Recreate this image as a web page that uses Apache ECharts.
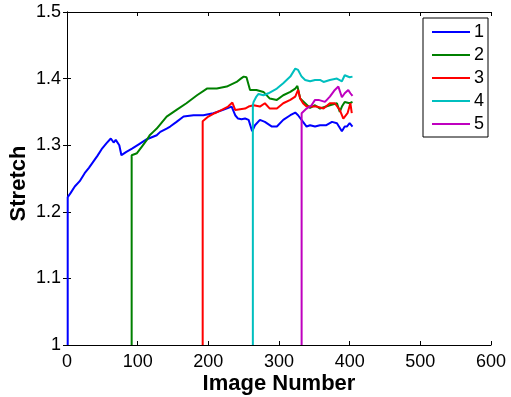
<!DOCTYPE html>
<html><head><meta charset="utf-8">
<script src="https://cdn.jsdelivr.net/npm/echarts@6/dist/echarts.min.js"></script>
<style>html,body{margin:0;padding:0;background:#fff}#c{width:511px;height:397px}</style>
</head><body><div id="c"></div>
<script>
const seriesNames = ['1','2','3','4','5'];
const xTicks = [0,100,200,300,400,500,600];
const yTicks = [1,1.1,1.2,1.3,1.4,1.5];

const s1x = [1,1,5,11,18,25,31,37,43,49,56,62,66,69,74,77,84,92,101,113,120,127,132,141,146,155,165,179,193,207,221,233,238,242,247,252,257,262,266,273,280,290,297,306,316,323,327,334,339,344,351,358,367,375,382,389,393,396,400,404];
const s1y = [1,1.222,1.228,1.238,1.246,1.258,1.266,1.275,1.284,1.294,1.303,1.310,1.304,1.308,1.300,1.285,1.290,1.295,1.301,1.309,1.312,1.315,1.320,1.325,1.328,1.335,1.343,1.345,1.345,1.348,1.353,1.358,1.345,1.340,1.339,1.340,1.338,1.321,1.330,1.338,1.335,1.328,1.328,1.338,1.345,1.349,1.345,1.335,1.328,1.330,1.328,1.330,1.330,1.335,1.333,1.321,1.328,1.328,1.333,1.328];

const s2x = [91.5,91.5,99,106,113,117,122,127,129,141,155,169,184,198,212,226,240,246,250,254,259,261,268,278,287,297,306,316,323,326,330,337,344,351,358,372,382,386,389,393,400,404];
const s2y = [1,1.285,1.288,1.298,1.308,1.315,1.320,1.325,1.326,1.343,1.353,1.363,1.375,1.385,1.385,1.388,1.395,1.400,1.403,1.402,1.383,1.385,1.383,1.380,1.370,1.368,1.375,1.380,1.385,1.389,1.370,1.363,1.356,1.360,1.355,1.360,1.363,1.350,1.358,1.365,1.363,1.365];

const s3x = [192,192,193,200,209,219,228,234,238,245,252,257,264,273,280,287,297,306,316,323,327,330,334,339,346,353,363,372,379,386,391,397,401,403];
const s3y = [1,1.336,1.338,1.343,1.348,1.353,1.358,1.364,1.353,1.354,1.355,1.358,1.360,1.358,1.363,1.355,1.355,1.363,1.368,1.373,1.383,1.370,1.363,1.358,1.358,1.358,1.355,1.363,1.363,1.353,1.340,1.348,1.363,1.348];

const s4x = [263,263,264,268,271,278,285,297,306,316,323,327,332,337,344,351,358,363,372,382,389,393,400,404];
const s4y = [1,1.360,1.365,1.373,1.377,1.375,1.378,1.385,1.393,1.403,1.415,1.413,1.403,1.398,1.396,1.398,1.398,1.395,1.398,1.400,1.396,1.405,1.402,1.403];

const s5x = [332,332,339,346,351,356,358,365,372,379,384,389,393,398,401,404];
const s5y = [1,1.348,1.355,1.360,1.368,1.368,1.370,1.365,1.373,1.383,1.388,1.372,1.378,1.383,1.378,1.374];

const colors = ['#0000ff','#008000','#ff0000','#00bfbf','#bf00bf'];
const xs = [s1x,s2x,s3x,s4x,s5x];
const ys = [s1y,s2y,s3y,s4y,s5y];

const FONT = 'Liberation Sans';
const chart = echarts.init(document.getElementById('c'), null, {renderer:'canvas'});

const baseAxis = {
  axisLine:{show:true, lineStyle:{color:'#000', width:1}},
  axisTick:{show:true, inside:true, length:4, lineStyle:{color:'#000', width:1}},
  splitLine:{show:false}
};

chart.setOption({
  animation:false,
  backgroundColor:'#fff',
  grid:{left:67, right:20, top:12, bottom:52, containLabel:false, outerBoundsMode:'none'},
  legend:{
    orient:'vertical', left:423, top:18,
    data:seriesNames,
    icon:'rect', itemWidth:38, itemHeight:2, itemGap:5,
    padding:[5,4,4,9],
    borderColor:'#000', borderWidth:1, backgroundColor:'#fff',
    textStyle:{fontFamily:FONT, fontSize:18, color:'#000', lineHeight:18, padding:[0,0,0,-1]}
  },
  xAxis:[
    Object.assign({}, baseAxis, {
      type:'value', min:xTicks[0], max:xTicks[xTicks.length-1], interval:100, position:'bottom',
      name:'Image Number', nameLocation:'middle', nameGap:28, nameMoveOverlap:false,
      nameTextStyle:{fontFamily:FONT, fontSize:22, fontWeight:'bold', color:'#000'},
      axisLabel:{fontFamily:FONT, fontSize:18, color:'#000', margin:8}
    }),
    Object.assign({}, baseAxis, {
      type:'value', min:xTicks[0], max:xTicks[xTicks.length-1], interval:100, position:'top',
      axisLabel:{show:false}
    })
  ],
  yAxis:[
    Object.assign({}, baseAxis, {
      type:'value', min:yTicks[0], max:yTicks[yTicks.length-1], interval:0.1, position:'left',
      name:'Stretch', nameLocation:'middle', nameGap:37, nameMoveOverlap:false,
      nameTextStyle:{fontFamily:FONT, fontSize:22, fontWeight:'bold', color:'#000', padding:[0,10,0,0]},
      axisLabel:{fontFamily:FONT, fontSize:18, color:'#000', margin:6}
    }),
    Object.assign({}, baseAxis, {
      type:'value', min:yTicks[0], max:yTicks[yTicks.length-1], interval:0.1, position:'right',
      axisLabel:{show:false}
    })
  ],
  series: seriesNames.map((n,i)=>({
    name:n, type:'line', xAxisIndex:0, yAxisIndex:0,
    showSymbol:false, symbol:'none',
    color:colors[i],
    lineStyle:{color:colors[i], width:2},
    data: xs[i].map((x,j)=>[x, ys[i][j]])
  }))
});
</script>
</body></html>
